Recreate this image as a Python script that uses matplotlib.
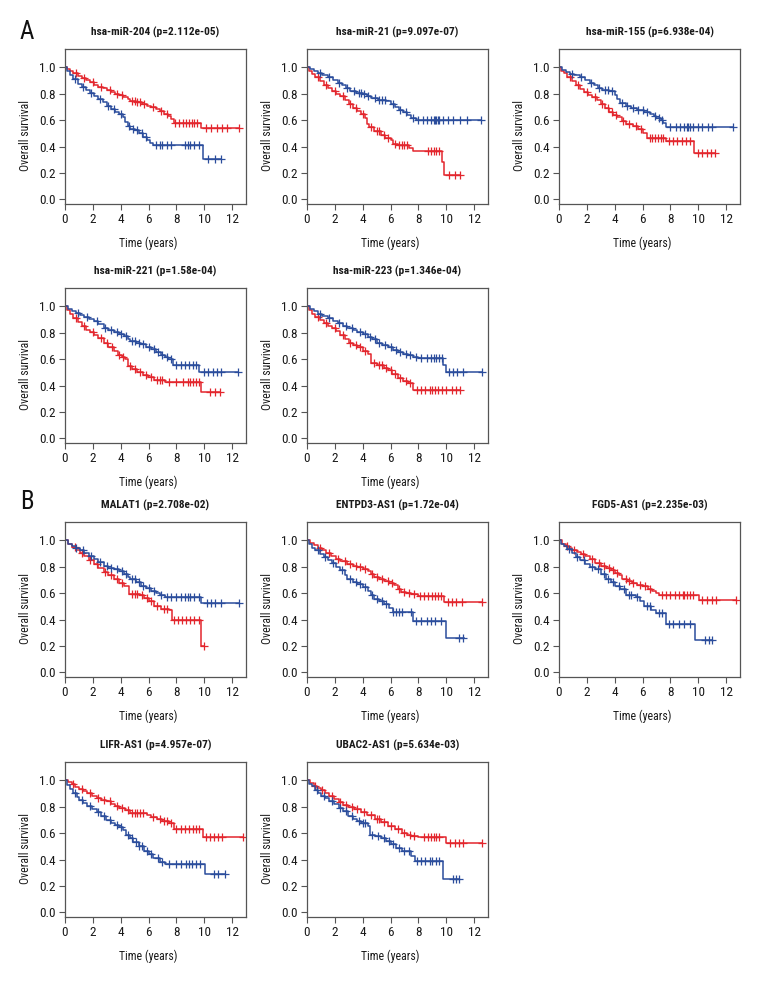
import numpy as np
import matplotlib
matplotlib.use("Agg")
import matplotlib.pyplot as plt
from matplotlib import font_manager as fm

# ---------------- data ----------------
titles = ["hsa-miR-204 (p=2.112e-05)", "hsa-miR-21 (p=9.097e-07)", "hsa-miR-155 (p=6.938e-04)",
          "hsa-miR-221 (p=1.58e-04)", "hsa-miR-223 (p=1.346e-04)",
          "MALAT1 (p=2.708e-02)", "ENTPD3-AS1 (p=1.72e-04)", "FGD5-AS1 (p=2.235e-03)",
          "LIFR-AS1 (p=4.957e-07)", "UBAC2-AS1 (p=5.634e-03)"]

x_ticks = [0, 2, 4, 6, 8, 10, 12]
y_ticks = [0.0, 0.2, 0.4, 0.6, 0.8, 1.0]

# panel 1: hsa-miR-204
p1_red_t = [0, 0.15, 0.35, 0.6, 0.9, 1.2, 1.5, 1.8, 2.1, 2.4, 2.7, 3.0, 3.3, 3.6, 3.9, 4.2, 4.5, 4.7, 5.1, 5.5, 5.9, 6.2, 6.5, 6.8, 7.1, 7.4, 7.6, 7.85, 9.8, 12.5]
p1_red_s = [1.0, 0.985, 0.97, 0.955, 0.935, 0.92, 0.905, 0.89, 0.87, 0.855, 0.845, 0.83, 0.815, 0.80, 0.79, 0.775, 0.76, 0.745, 0.74, 0.725, 0.71, 0.70, 0.685, 0.67, 0.65, 0.635, 0.61, 0.58, 0.54, 0.54]
p1_red_c = [0.8, 1.4, 2.0, 2.6, 3.2, 3.7, 4.1, 4.8, 5.0, 5.2, 5.4, 5.7, 6.3, 6.9, 7.3, 7.9, 8.2, 8.5, 8.7, 8.9, 9.1, 9.3, 9.5, 10.1, 10.5, 10.9, 11.3, 11.6, 12.5]
p1_blue_t = [0, 0.15, 0.35, 0.6, 0.9, 1.2, 1.5, 1.8, 2.1, 2.4, 2.7, 3.0, 3.3, 3.6, 3.9, 4.15, 4.3, 4.5, 4.7, 5.0, 5.3, 5.6, 5.9, 6.1, 6.35, 9.9, 11.2]
p1_blue_s = [1.0, 0.97, 0.94, 0.91, 0.875, 0.85, 0.83, 0.81, 0.785, 0.76, 0.74, 0.71, 0.685, 0.665, 0.645, 0.625, 0.585, 0.555, 0.535, 0.525, 0.50, 0.475, 0.45, 0.43, 0.41, 0.305, 0.305]
p1_blue_c = [0.7, 1.3, 1.9, 2.5, 3.1, 3.5, 4.0, 4.6, 4.9, 5.2, 5.5, 5.8, 6.5, 6.8, 7.0, 7.3, 7.6, 8.6, 8.8, 9.0, 9.3, 9.6, 10.3, 10.8, 11.2]

# panel 2: hsa-miR-21
p2_blue_t = [0, 0.2, 0.5, 0.8, 1.1, 1.5, 1.9, 2.2, 2.5, 2.8, 3.1, 3.5, 4.0, 4.3, 4.6, 5.1, 5.7, 6.0, 6.3, 6.6, 6.9, 7.2, 7.5, 7.8, 12.5]
p2_blue_s = [1.0, 0.985, 0.97, 0.955, 0.945, 0.925, 0.905, 0.885, 0.865, 0.845, 0.825, 0.81, 0.80, 0.785, 0.765, 0.755, 0.745, 0.72, 0.70, 0.68, 0.66, 0.64, 0.62, 0.60, 0.60]
p2_blue_c = [0.9, 1.6, 2.3, 2.9, 3.4, 3.7, 3.9, 4.1, 4.4, 4.9, 5.2, 5.4, 5.6, 6.2, 6.7, 7.1, 7.6, 8.0, 8.3, 8.6, 8.9, 9.1, 9.2, 9.3, 9.4, 9.5, 9.8, 10.1, 10.5, 11.0, 11.5, 12.5]
p2_red_t = [0, 0.15, 0.35, 0.6, 0.9, 1.2, 1.5, 1.8, 2.1, 2.4, 2.7, 3.0, 3.3, 3.6, 3.9, 4.15, 4.3, 4.45, 4.8, 5.3, 5.6, 6.0, 6.2, 6.5, 7.3, 7.6, 9.7, 9.85, 11.0]
p2_red_s = [1.0, 0.975, 0.95, 0.925, 0.895, 0.865, 0.845, 0.825, 0.80, 0.78, 0.755, 0.725, 0.695, 0.67, 0.645, 0.62, 0.575, 0.545, 0.515, 0.49, 0.465, 0.45, 0.42, 0.41, 0.39, 0.365, 0.28, 0.185, 0.185]
p2_red_c = [0.8, 1.4, 2.0, 2.6, 3.1, 3.5, 4.0, 4.6, 5.0, 5.2, 5.5, 5.8, 6.3, 6.6, 6.8, 7.0, 7.2, 8.7, 8.9, 9.1, 9.3, 9.5, 10.2, 10.6, 11.0]

# panel 3: hsa-miR-155
p3_blue_t = [0, 0.2, 0.5, 0.8, 1.1, 1.5, 1.9, 2.2, 2.5, 2.8, 3.1, 3.6, 4.05, 4.2, 4.35, 4.8, 5.2, 5.6, 6.1, 6.5, 6.8, 7.0, 7.3, 7.5, 7.7, 12.5]
p3_blue_s = [1.0, 0.98, 0.965, 0.95, 0.94, 0.925, 0.905, 0.885, 0.865, 0.845, 0.83, 0.82, 0.79, 0.76, 0.73, 0.71, 0.695, 0.68, 0.665, 0.65, 0.63, 0.615, 0.60, 0.58, 0.55, 0.55]
p3_blue_c = [0.9, 1.6, 2.3, 2.9, 3.3, 3.5, 3.8, 4.5, 4.9, 5.3, 5.7, 6.0, 6.3, 6.9, 7.2, 7.4, 8.0, 8.4, 8.7, 9.0, 9.2, 9.3, 9.4, 9.6, 10.0, 10.3, 10.7, 11.0, 12.5]
p3_red_t = [0, 0.15, 0.35, 0.6, 0.9, 1.2, 1.5, 1.8, 2.1, 2.4, 2.7, 3.0, 3.3, 3.6, 3.9, 4.2, 4.5, 4.8, 5.3, 5.7, 6.0, 6.35, 7.7, 9.7, 11.2]
p3_red_s = [1.0, 0.975, 0.955, 0.93, 0.895, 0.865, 0.84, 0.815, 0.795, 0.775, 0.75, 0.72, 0.69, 0.665, 0.64, 0.625, 0.595, 0.575, 0.555, 0.53, 0.50, 0.465, 0.44, 0.355, 0.355]
p3_red_c = [0.8, 1.4, 2.0, 2.6, 3.1, 3.5, 3.8, 4.1, 4.6, 5.0, 5.5, 5.9, 6.5, 6.7, 6.9, 7.1, 7.3, 7.5, 7.9, 8.2, 8.5, 8.8, 9.1, 9.4, 10.0, 10.3, 10.6, 10.9, 11.2]

# panel 4: hsa-miR-221
p4_blue_t = [0, 0.2, 0.5, 0.8, 1.1, 1.4, 1.7, 2.05, 2.4, 2.8, 3.1, 3.5, 3.9, 4.25, 4.5, 4.7, 5.1, 5.45, 5.8, 6.2, 6.5, 6.9, 7.2, 7.4, 7.75, 9.65, 12.4]
p4_blue_s = [1.0, 0.98, 0.965, 0.95, 0.935, 0.92, 0.905, 0.89, 0.865, 0.84, 0.82, 0.805, 0.79, 0.775, 0.755, 0.735, 0.725, 0.715, 0.695, 0.68, 0.655, 0.63, 0.615, 0.60, 0.555, 0.50, 0.50]
p4_blue_c = [0.9, 1.6, 2.3, 2.9, 3.3, 3.7, 4.0, 4.4, 4.8, 5.0, 5.3, 5.6, 6.0, 6.4, 6.7, 7.0, 7.3, 7.6, 8.0, 8.3, 8.6, 8.9, 9.2, 9.4, 10.0, 10.3, 10.6, 10.9, 11.2, 12.4]
p4_red_t = [0, 0.15, 0.35, 0.6, 0.9, 1.2, 1.5, 1.8, 2.1, 2.4, 2.8, 3.1, 3.5, 3.8, 4.1, 4.3, 4.5, 4.8, 5.2, 5.6, 5.95, 6.4, 7.15, 9.8, 11.15]
p4_red_s = [1.0, 0.97, 0.945, 0.915, 0.88, 0.85, 0.825, 0.805, 0.785, 0.76, 0.72, 0.695, 0.66, 0.635, 0.62, 0.60, 0.545, 0.525, 0.50, 0.48, 0.465, 0.44, 0.425, 0.35, 0.35]
p4_red_c = [0.8, 1.4, 2.0, 2.6, 3.0, 3.4, 3.9, 4.2, 4.7, 5.0, 5.4, 5.8, 6.2, 6.6, 6.8, 7.0, 7.5, 8.0, 8.5, 8.8, 9.0, 9.2, 9.4, 9.6, 10.4, 10.8, 11.15]

# panel 5: hsa-miR-223
p5_blue_t = [0, 0.2, 0.5, 0.8, 1.1, 1.5, 1.9, 2.2, 2.6, 2.9, 3.3, 3.6, 4.0, 4.35, 4.7, 5.05, 5.4, 5.8, 6.2, 6.5, 6.9, 7.25, 7.6, 7.95, 9.75, 9.95, 12.55]
p5_blue_s = [1.0, 0.98, 0.965, 0.945, 0.925, 0.91, 0.89, 0.875, 0.855, 0.84, 0.825, 0.81, 0.79, 0.77, 0.75, 0.725, 0.705, 0.69, 0.67, 0.655, 0.64, 0.63, 0.62, 0.61, 0.56, 0.50, 0.50]
p5_blue_c = [0.9, 1.6, 2.3, 2.8, 3.2, 3.8, 4.2, 4.5, 4.9, 5.2, 5.6, 6.0, 6.4, 6.7, 7.1, 7.4, 7.8, 8.2, 8.6, 8.9, 9.1, 9.3, 9.5, 9.7, 10.2, 10.5, 10.8, 11.2, 12.55]
p5_red_t = [0, 0.15, 0.35, 0.6, 0.9, 1.2, 1.5, 1.8, 2.1, 2.4, 2.7, 3.0, 3.3, 3.6, 4.0, 4.35, 4.6, 5.05, 5.5, 5.8, 6.1, 6.5, 6.9, 7.25, 7.6, 11.0]
p5_red_s = [1.0, 0.97, 0.945, 0.92, 0.895, 0.875, 0.855, 0.84, 0.815, 0.785, 0.755, 0.725, 0.705, 0.69, 0.665, 0.64, 0.575, 0.555, 0.535, 0.515, 0.49, 0.46, 0.435, 0.42, 0.365, 0.365]
p5_red_c = [0.8, 1.4, 2.0, 2.6, 3.1, 3.5, 3.8, 4.2, 4.8, 5.2, 5.4, 5.7, 6.0, 6.3, 6.7, 7.1, 7.4, 7.9, 8.2, 8.5, 8.8, 9.0, 9.2, 9.4, 9.7, 10.0, 10.4, 10.7, 11.0]

# panel 6: MALAT1
p6_blue_t = [0, 0.2, 0.5, 0.8, 1.1, 1.4, 1.7, 2.05, 2.4, 2.8, 3.1, 3.5, 3.9, 4.25, 4.5, 4.7, 5.1, 5.45, 5.8, 6.2, 6.5, 6.8, 7.15, 9.8, 12.5]
p6_blue_s = [1.0, 0.975, 0.955, 0.94, 0.925, 0.905, 0.885, 0.86, 0.835, 0.805, 0.79, 0.78, 0.765, 0.745, 0.725, 0.705, 0.685, 0.655, 0.64, 0.617, 0.60, 0.585, 0.57, 0.525, 0.525]
p6_blue_c = [0.8, 1.3, 1.9, 2.5, 3.0, 3.3, 3.7, 4.1, 4.4, 4.8, 5.0, 5.3, 5.6, 6.0, 6.4, 6.9, 7.3, 7.6, 8.0, 8.3, 8.6, 8.8, 9.0, 9.3, 9.6, 10.2, 10.5, 10.8, 11.2, 12.5]
p6_red_t = [0, 0.2, 0.5, 0.8, 1.1, 1.4, 1.7, 2.05, 2.4, 2.8, 3.1, 3.5, 3.9, 4.25, 4.6, 5.4, 5.7, 6.0, 6.4, 6.9, 7.5, 7.65, 9.75, 10.0]
p6_red_s = [1.0, 0.97, 0.95, 0.925, 0.905, 0.88, 0.855, 0.82, 0.795, 0.76, 0.74, 0.705, 0.68, 0.655, 0.597, 0.59, 0.566, 0.54, 0.50, 0.48, 0.47, 0.40, 0.20, 0.20]
p6_red_c = [0.7, 1.2, 1.8, 2.3, 2.9, 3.3, 3.7, 4.1, 4.8, 5.0, 5.2, 5.5, 5.9, 6.2, 6.6, 7.1, 7.3, 7.8, 8.1, 8.4, 8.7, 9.0, 9.3, 9.6, 10.0]

# panel 7: ENTPD3-AS1
p7_red_t = [0, 0.2, 0.5, 0.8, 1.1, 1.4, 1.7, 2.05, 2.4, 2.9, 3.3, 3.6, 4.0, 4.35, 4.6, 4.8, 5.2, 5.55, 5.9, 6.25, 6.5, 6.75, 7.1, 7.45, 7.95, 9.85, 12.55]
p7_red_s = [1.0, 0.98, 0.965, 0.945, 0.93, 0.905, 0.885, 0.86, 0.845, 0.82, 0.81, 0.80, 0.785, 0.77, 0.745, 0.72, 0.705, 0.695, 0.68, 0.66, 0.635, 0.61, 0.60, 0.595, 0.577, 0.537, 0.537]
p7_red_c = [0.9, 1.6, 2.2, 2.7, 3.1, 3.5, 3.8, 4.2, 4.7, 5.0, 5.4, 5.8, 6.1, 6.6, 7.0, 7.3, 7.7, 8.1, 8.4, 8.7, 9.0, 9.2, 9.4, 9.6, 10.1, 10.4, 10.7, 11.1, 12.55]
p7_blue_t = [0, 0.15, 0.35, 0.6, 0.9, 1.2, 1.5, 1.8, 2.05, 2.4, 2.7, 2.9, 3.3, 3.6, 4.0, 4.35, 4.6, 4.8, 5.2, 5.55, 5.9, 6.15, 7.6, 9.95, 11.3]
p7_blue_s = [1.0, 0.97, 0.945, 0.925, 0.90, 0.875, 0.85, 0.83, 0.80, 0.775, 0.74, 0.71, 0.685, 0.67, 0.645, 0.62, 0.585, 0.555, 0.54, 0.52, 0.49, 0.455, 0.39, 0.26, 0.26]
p7_blue_c = [0.8, 1.3, 1.9, 2.5, 3.1, 3.5, 3.8, 4.2, 4.7, 5.0, 5.4, 5.7, 6.2, 6.4, 6.6, 6.8, 7.5, 7.8, 8.2, 8.6, 8.9, 9.2, 9.6, 10.9, 11.2]

# panel 8: FGD5-AS1
p8_red_t = [0, 0.2, 0.5, 0.75, 0.95, 1.3, 1.6, 1.9, 2.2, 2.6, 3.0, 3.35, 3.7, 4.05, 4.3, 4.55, 4.9, 5.25, 5.6, 6.0, 6.4, 6.7, 7.0, 7.2, 10.05, 12.7]
p8_red_s = [1.0, 0.975, 0.955, 0.94, 0.93, 0.91, 0.895, 0.88, 0.86, 0.83, 0.81, 0.795, 0.775, 0.757, 0.735, 0.707, 0.695, 0.68, 0.665, 0.657, 0.635, 0.62, 0.60, 0.59, 0.545, 0.545]
p8_red_c = [0.6, 1.1, 1.7, 2.4, 2.9, 3.2, 3.6, 3.9, 4.2, 4.8, 5.0, 5.3, 5.8, 6.2, 6.5, 7.4, 7.7, 8.0, 8.3, 8.6, 8.9, 9.0, 9.2, 9.4, 9.6, 10.3, 10.6, 11.0, 11.3, 12.7]
p8_blue_t = [0, 0.15, 0.35, 0.6, 0.95, 1.2, 1.5, 1.9, 2.2, 2.6, 3.0, 3.35, 3.7, 4.05, 4.4, 4.8, 5.5, 5.8, 6.1, 6.6, 6.95, 7.65, 9.8, 11.0]
p8_blue_s = [1.0, 0.975, 0.955, 0.935, 0.905, 0.875, 0.85, 0.825, 0.80, 0.78, 0.745, 0.707, 0.685, 0.657, 0.63, 0.59, 0.57, 0.54, 0.506, 0.47, 0.45, 0.37, 0.245, 0.245]
p8_blue_c = [0.7, 1.3, 1.8, 2.4, 2.8, 3.2, 3.5, 3.9, 4.3, 4.7, 5.0, 5.2, 5.6, 6.3, 6.5, 7.2, 7.4, 7.9, 8.2, 8.6, 9.0, 9.4, 10.5, 10.8, 11.0]

# panel 9: LIFR-AS1
p9_red_t = [0, 0.2, 0.5, 0.75, 1.0, 1.3, 1.6, 1.95, 2.3, 2.6, 2.95, 3.3, 3.6, 3.9, 4.3, 4.65, 5.9, 6.2, 6.6, 7.0, 7.45, 7.85, 9.9, 12.75]
p9_red_s = [1.0, 0.985, 0.97, 0.95, 0.935, 0.92, 0.905, 0.885, 0.87, 0.855, 0.845, 0.825, 0.81, 0.795, 0.775, 0.75, 0.74, 0.72, 0.71, 0.695, 0.68, 0.63, 0.575, 0.575]
p9_red_c = [0.6, 1.2, 1.8, 2.4, 2.8, 3.2, 3.7, 4.1, 4.5, 4.8, 5.0, 5.2, 5.4, 5.6, 6.3, 6.8, 7.1, 7.3, 7.6, 8.0, 8.3, 8.6, 8.9, 9.2, 9.4, 9.6, 10.1, 10.4, 10.7, 11.0, 11.3, 12.75]
p9_blue_t = [0, 0.15, 0.35, 0.6, 0.85, 1.0, 1.3, 1.6, 1.95, 2.3, 2.6, 2.95, 3.3, 3.6, 3.9, 4.15, 4.4, 4.65, 4.9, 5.3, 5.65, 6.0, 6.35, 6.85, 7.2, 10.05, 11.5]
p9_blue_s = [1.0, 0.965, 0.935, 0.905, 0.875, 0.85, 0.83, 0.81, 0.785, 0.76, 0.73, 0.70, 0.675, 0.66, 0.645, 0.625, 0.59, 0.565, 0.535, 0.50, 0.465, 0.44, 0.415, 0.38, 0.365, 0.29, 0.29]
p9_blue_c = [0.7, 1.2, 1.8, 2.4, 2.8, 3.2, 3.7, 4.0, 4.5, 4.8, 5.1, 5.3, 5.5, 5.9, 6.2, 6.7, 7.0, 7.5, 8.0, 8.3, 8.7, 8.9, 9.1, 9.4, 9.7, 10.7, 11.0, 11.5]

# panel 10: UBAC2-AS1
p10_red_t = [0, 0.2, 0.5, 0.75, 1.0, 1.3, 1.6, 1.95, 2.3, 2.6, 2.95, 3.4, 3.9, 4.3, 4.85, 5.3, 5.8, 6.3, 6.8, 7.2, 7.5, 8.0, 10.0, 12.55]
p10_red_s = [1.0, 0.98, 0.96, 0.94, 0.925, 0.905, 0.885, 0.86, 0.84, 0.815, 0.80, 0.785, 0.76, 0.735, 0.705, 0.685, 0.655, 0.635, 0.605, 0.59, 0.58, 0.57, 0.528, 0.528]
p10_red_c = [0.6, 1.1, 1.8, 2.4, 2.8, 3.2, 3.6, 4.1, 4.6, 5.0, 5.2, 5.5, 6.0, 6.5, 7.0, 7.4, 7.7, 8.4, 8.7, 8.9, 9.1, 9.3, 9.5, 10.3, 10.6, 10.9, 11.2, 12.55]
p10_blue_t = [0, 0.15, 0.35, 0.6, 0.8, 1.0, 1.3, 1.6, 1.95, 2.3, 2.6, 2.95, 3.3, 3.6, 3.9, 4.4, 4.5, 4.9, 5.35, 5.7, 6.05, 6.4, 6.8, 7.5, 7.75, 9.75, 10.9]
p10_blue_s = [1.0, 0.975, 0.955, 0.93, 0.905, 0.885, 0.865, 0.845, 0.82, 0.795, 0.765, 0.73, 0.705, 0.69, 0.68, 0.655, 0.59, 0.58, 0.566, 0.54, 0.515, 0.49, 0.465, 0.425, 0.388, 0.255, 0.255]
p10_blue_c = [0.7, 1.2, 1.8, 2.4, 2.8, 3.2, 3.7, 4.0, 4.2, 4.7, 5.1, 5.5, 5.9, 6.2, 6.6, 7.0, 7.3, 7.9, 8.2, 8.5, 8.8, 9.0, 9.3, 9.5, 10.5, 10.7, 10.9]

panels = [
    (p1_red_t, p1_red_s, p1_red_c, p1_blue_t, p1_blue_s, p1_blue_c),
    (p2_red_t, p2_red_s, p2_red_c, p2_blue_t, p2_blue_s, p2_blue_c),
    (p3_red_t, p3_red_s, p3_red_c, p3_blue_t, p3_blue_s, p3_blue_c),
    (p4_red_t, p4_red_s, p4_red_c, p4_blue_t, p4_blue_s, p4_blue_c),
    (p5_red_t, p5_red_s, p5_red_c, p5_blue_t, p5_blue_s, p5_blue_c),
    (p6_red_t, p6_red_s, p6_red_c, p6_blue_t, p6_blue_s, p6_blue_c),
    (p7_red_t, p7_red_s, p7_red_c, p7_blue_t, p7_blue_s, p7_blue_c),
    (p8_red_t, p8_red_s, p8_red_c, p8_blue_t, p8_blue_s, p8_blue_c),
    (p9_red_t, p9_red_s, p9_red_c, p9_blue_t, p9_blue_s, p9_blue_c),
    (p10_red_t, p10_red_s, p10_red_c, p10_blue_t, p10_blue_s, p10_blue_c),
]

# ---------------- style ----------------
def pick_font(cands):
    for c in cands:
        try:
            fm.findfont(fm.FontProperties(family=c), fallback_to_default=False)
            return c
        except Exception:
            continue
    return "DejaVu Sans"

FONT = pick_font(["Liberation Sans Narrow", "Roboto Condensed", "Open Sans Condensed", "Roboto", "Liberation Sans"])
plt.rcParams['font.family'] = [FONT, 'DejaVu Sans']

RED = "#e3262d"
BLUE = "#2b4d9c"
FRAME = "#555555"

W, H = 780, 984
fig = plt.figure(figsize=(W / 100, H / 100), dpi=100)

col_left = [65, 307, 559]
row_top = [49, 288, 522, 762]
AW, AH = 181, 155
layout = [(0, 0), (0, 1), (0, 2), (1, 0), (1, 1), (2, 0), (2, 1), (2, 2), (3, 0), (3, 1)]


def surv_at(t, s, c):
    t = np.asarray(t); s = np.asarray(s)
    idx = np.searchsorted(t, np.asarray(c), side='right') - 1
    return s[np.clip(idx, 0, len(s) - 1)]


for k, (r, cidx) in enumerate(layout):
    L = col_left[cidx]; T = row_top[r]
    ax = fig.add_axes([L / W, 1 - (T + AH) / H, AW / W, AH / H])
    rt, rs, rc, bt, bs, bc = panels[k]
    for (tt, ss, cc, col) in [(rt, rs, rc, RED), (bt, bs, bc, BLUE)]:
        ax.step(tt, ss, where='post', color=col, lw=1.1)
        ax.plot(cc, surv_at(tt, ss, cc), linestyle='none', marker='+',
                color=col, markersize=5.5, markeredgewidth=0.9)
    ax.set_xlim(0, 13.0)
    ax.set_ylim(-0.035, 1.14)
    ax.set_xticks(x_ticks)
    ax.set_yticks(y_ticks)
    ax.set_yticklabels([f"{v:.1f}" for v in y_ticks])
    ax.tick_params(axis='both', direction='out', length=4, width=0.8, color=FRAME,
                   labelsize=9.5, pad=2.5, labelcolor='#1a1a1a')
    for sp in ax.spines.values():
        sp.set_color(FRAME); sp.set_linewidth(0.9)
    ax.set_xlabel("Time (years)", fontsize=8.5, color='#1a1a1a')
    ax.set_ylabel("Overall survival", fontsize=8.5, color='#1a1a1a')
    ax.xaxis.set_label_coords(0.46, -33 / AH)
    ax.yaxis.set_label_coords(-33 / AW, 0.44)
    ax.text(0.5, 1 + 17 / AH, titles[k], transform=ax.transAxes, ha='center', va='center',
            fontsize=8.2, fontweight='bold', color='#1a1a1a')

fig.text(27 / W, 1 - 32 / H, "A", fontsize=18, ha='center', va='center', color='#111111')
fig.text(27 / W, 1 - 502 / H, "B", fontsize=18, ha='center', va='center', color='#111111')

fig.savefig("out.png", dpi=100)
